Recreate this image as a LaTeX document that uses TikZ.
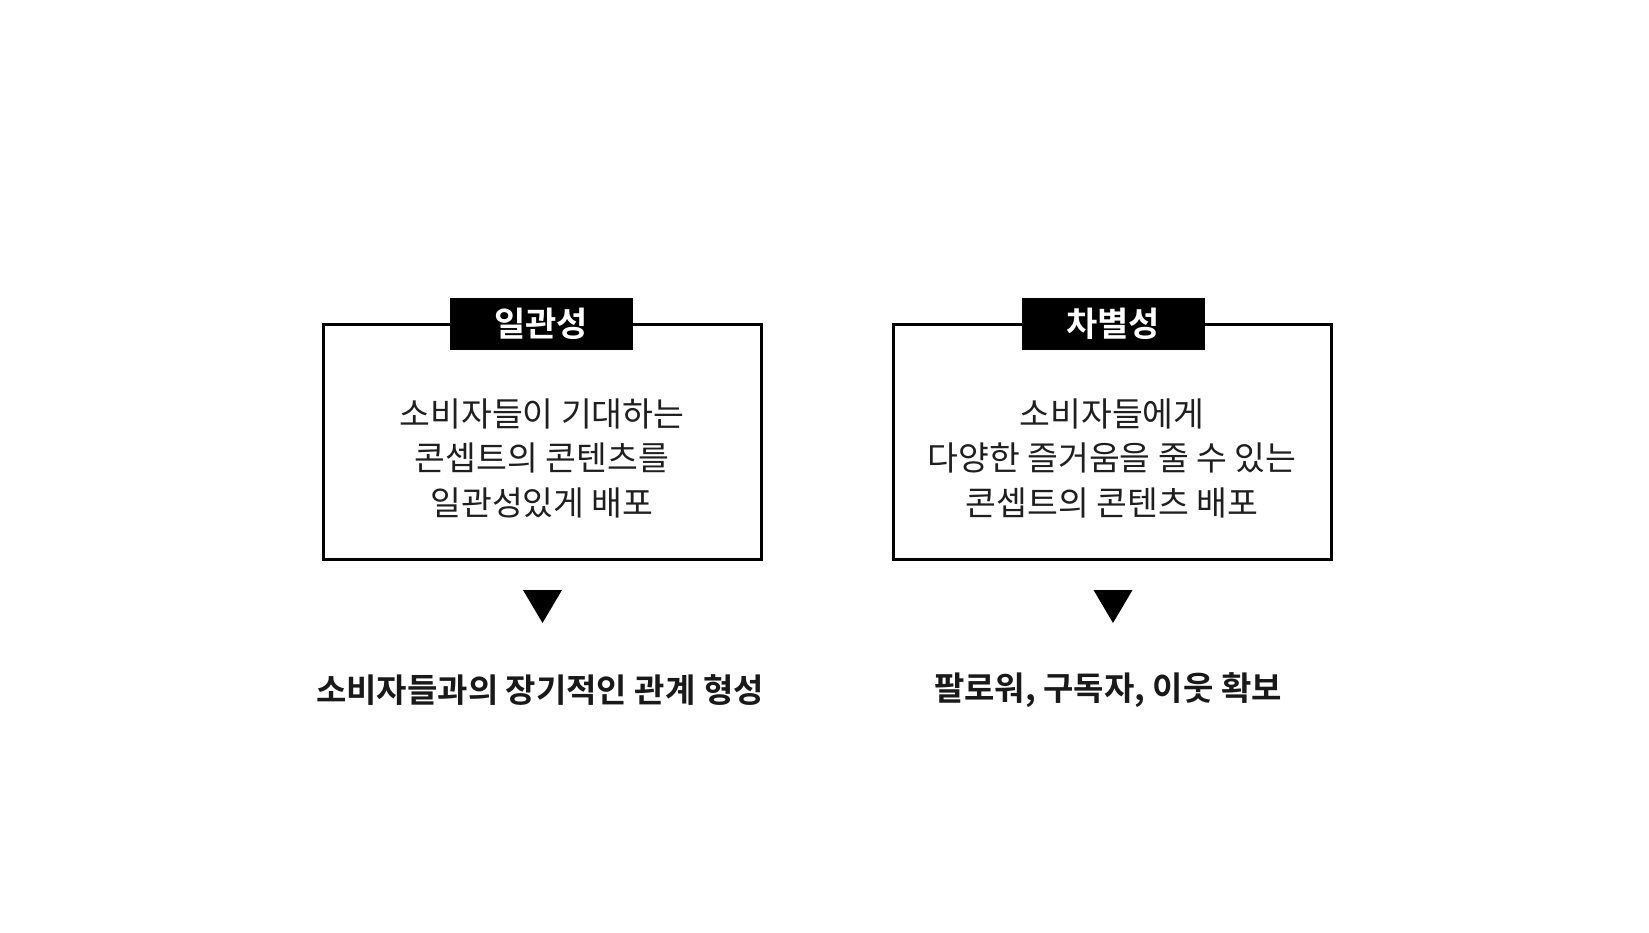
\documentclass[tikz,border=0pt]{standalone}
\usepackage{fontspec}
\usetikzlibrary{calc}
\newfontfamily\kr{Noto Sans CJK KR}
\newfontfamily\krb{Noto Sans CJK KR Bold}
\begin{document}
\begin{tikzpicture}[x=1pt,y=-1pt,
  frame/.style={draw=black,line width=3pt},
  tag/.style={fill=black,text=white,font=\krb\fontsize{34}{38}\selectfont,inner sep=0pt,minimum width=183pt,minimum height=52pt},
  body/.style={text=black!88,font=\kr\fontsize{33.5}{44.5}\selectfont,align=center,inner sep=0pt},
  result/.style={text=black!90,font=\krb\fontsize{33}{38}\selectfont,inner sep=0pt},
  tri/.style={fill=black,draw=none}]
\useasboundingbox (0,0) rectangle (1649,933);
\fill[white] (0,0) rectangle (1649,933);
% left
\draw[frame] (323,324) rectangle (761,559);
\node[tag] (t1) at (541,324) {일관성};
\node[body] (b1) at (542,458) {소비자들이 기대하는\\콘셉트의 콘텐츠를\\일관성있게 배포};
\coordinate (a1) at (542.5,607);
\fill[tri] ($(a1)+(-19.5,-17)$) -- ($(a1)+(19.5,-17)$) -- ($(a1)+(0,16)$) -- cycle;
\node[result] (r1) at (540,690) {소비자들과의 장기적인 관계 형성};
% right
\draw[frame] (893,324) rectangle (1331,559);
\node[tag] (t2) at (1113,324) {차별성};
\node[body] (b2) at (1112,458) {소비자들에게\\다양한 즐거움을 줄 수 있는\\콘셉트의 콘텐츠 배포};
\coordinate (a2) at (1113,607);
\fill[tri] ($(a2)+(-19.5,-17)$) -- ($(a2)+(19.5,-17)$) -- ($(a2)+(0,16)$) -- cycle;
\node[result] (r2) at (1108,690) {팔로워, 구독자, 이웃 확보};
\end{tikzpicture}
\end{document}
